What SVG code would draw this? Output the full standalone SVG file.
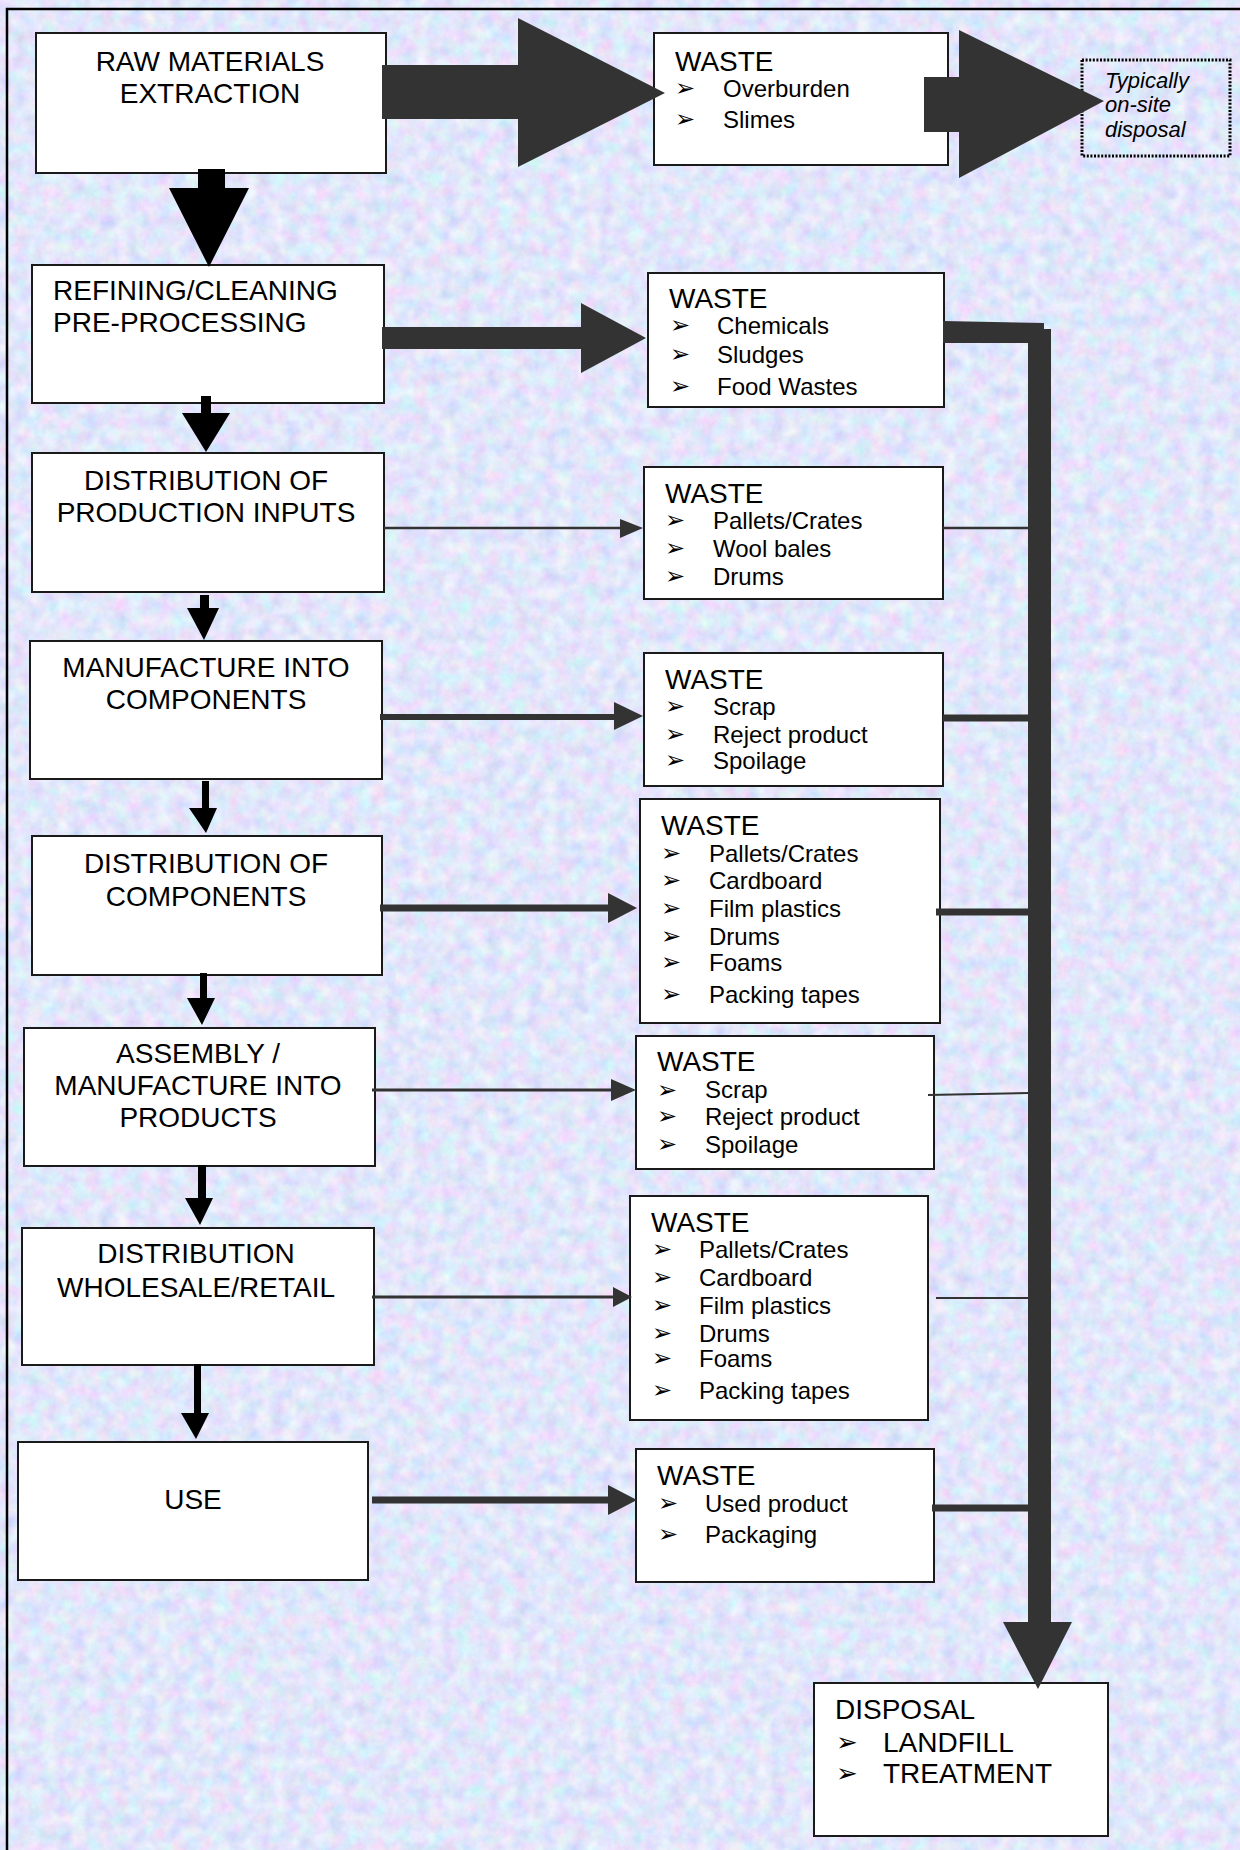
<svg xmlns="http://www.w3.org/2000/svg" width="1240" height="1850" viewBox="0 0 1240 1850">
<defs>
<filter id="tex" x="0" y="0" width="1240" height="1850" filterUnits="userSpaceOnUse">
<feTurbulence type="fractalNoise" baseFrequency="0.07" numOctaves="4" seed="7" result="n"/>
<feColorMatrix in="n" type="matrix" values="0.5 0 0 0 0.51  0 0.42 0 0 0.585  0 0 0.2 0 0.86  0 0 0 0 1"/>
</filter>
<style>
.box{fill:#fff;stroke:#1a1a1a;stroke-width:2}
.dot{fill:none;stroke:#000;stroke-width:3;stroke-dasharray:2 1.6}
.t{font-family:"Liberation Sans",Arial,sans-serif;font-size:28px;fill:#000}
.c{text-anchor:middle}
.i{font-family:"Liberation Sans",Arial,sans-serif;font-size:24px;fill:#000}
.b{font-family:"DejaVu Sans",sans-serif;font-size:24px;fill:#000}
.bb{font-family:"DejaVu Sans",sans-serif;font-size:26px;fill:#000}
.it{font-family:"Liberation Sans",Arial,sans-serif;font-size:22px;font-style:italic;fill:#000}
.blk{fill:#000}
.dk{fill:#333}
.ln{stroke:#333;fill:none}
</style>
</defs>
<rect x="0" y="0" width="1240" height="1850" fill="#fff"/>
<rect x="7" y="9" width="1233" height="1841" fill="#c4d0f4" filter="url(#tex)"/>
<path d="M7,1850 V9 H1240" fill="none" stroke="#000" stroke-width="2.5"/>

<g id="node-raw">
<rect class="box" x="36" y="33" width="350" height="140"/>
<text class="t c" x="210" y="71">RAW MATERIALS</text>
<text class="t c" x="210" y="103">EXTRACTION</text>
</g>
<g id="node-waste1">
<rect class="box" x="654" y="33" width="294" height="132"/>
<text class="t" x="675" y="71">WASTE</text>
<text class="b" x="675" y="96">➢</text><text class="i" x="723" y="97">Overburden</text>
<text class="b" x="675" y="127">➢</text><text class="i" x="723" y="128">Slimes</text>
</g>
<g id="node-onsite">
<rect class="dot" x="1082" y="60" width="148" height="96"/>
<text class="it" x="1105" y="88">Typically</text>
<text class="it" x="1105" y="112">on-site</text>
<text class="it" x="1105" y="137">disposal</text>
</g>
<g id="node-refining">
<rect class="box" x="32" y="265" width="352" height="138"/>
<text class="t" x="53" y="300">REFINING/CLEANING</text>
<text class="t" x="53" y="332">PRE-PROCESSING</text>
</g>
<g id="node-waste2">
<rect class="box" x="648" y="273" width="296" height="134"/>
<text class="t" x="669" y="308">WASTE</text>
<text class="b" x="670" y="333">➢</text><text class="i" x="717" y="334">Chemicals</text>
<text class="b" x="670" y="362">➢</text><text class="i" x="717" y="363">Sludges</text>
<text class="b" x="670" y="394">➢</text><text class="i" x="717" y="395">Food Wastes</text>
</g>
<g id="node-distinputs">
<rect class="box" x="32" y="453" width="352" height="139"/>
<text class="t c" x="206" y="490">DISTRIBUTION OF</text>
<text class="t c" x="206" y="522">PRODUCTION INPUTS</text>
</g>
<g id="node-waste3">
<rect class="box" x="644" y="467" width="299" height="132"/>
<text class="t" x="665" y="503">WASTE</text>
<text class="b" x="665" y="528">➢</text><text class="i" x="713" y="529">Pallets/Crates</text>
<text class="b" x="665" y="556">➢</text><text class="i" x="713" y="557">Wool bales</text>
<text class="b" x="665" y="584">➢</text><text class="i" x="713" y="585">Drums</text>
</g>
<g id="node-manufcomp">
<rect class="box" x="30" y="641" width="352" height="138"/>
<text class="t c" x="206" y="677">MANUFACTURE INTO</text>
<text class="t c" x="206" y="709">COMPONENTS</text>
</g>
<g id="node-waste4">
<rect class="box" x="644" y="653" width="299" height="133"/>
<text class="t" x="665" y="689">WASTE</text>
<text class="b" x="665" y="714">➢</text><text class="i" x="713" y="715">Scrap</text>
<text class="b" x="665" y="742">➢</text><text class="i" x="713" y="743">Reject product</text>
<text class="b" x="665" y="768">➢</text><text class="i" x="713" y="769">Spoilage</text>
</g>
<g id="node-distcomp">
<rect class="box" x="32" y="836" width="350" height="139"/>
<text class="t c" x="206" y="873">DISTRIBUTION OF</text>
<text class="t c" x="206" y="906">COMPONENTS</text>
</g>
<g id="node-waste5">
<rect class="box" x="640" y="799" width="300" height="224"/>
<text class="t" x="661" y="835">WASTE</text>
<text class="b" x="661" y="861">➢</text><text class="i" x="709" y="862">Pallets/Crates</text>
<text class="b" x="661" y="888">➢</text><text class="i" x="709" y="889">Cardboard</text>
<text class="b" x="661" y="916">➢</text><text class="i" x="709" y="917">Film plastics</text>
<text class="b" x="661" y="944">➢</text><text class="i" x="709" y="945">Drums</text>
<text class="b" x="661" y="970">➢</text><text class="i" x="709" y="971">Foams</text>
<text class="b" x="661" y="1002">➢</text><text class="i" x="709" y="1003">Packing tapes</text>
</g>
<g id="node-assembly">
<rect class="box" x="24" y="1028" width="351" height="138"/>
<text class="t c" x="198" y="1063">ASSEMBLY /</text>
<text class="t c" x="198" y="1095">MANUFACTURE INTO</text>
<text class="t c" x="198" y="1127">PRODUCTS</text>
</g>
<g id="node-waste6">
<rect class="box" x="636" y="1036" width="298" height="133"/>
<text class="t" x="657" y="1071">WASTE</text>
<text class="b" x="657" y="1098">➢</text><text class="i" x="705" y="1098">Scrap</text>
<text class="b" x="657" y="1124">➢</text><text class="i" x="705" y="1125">Reject product</text>
<text class="b" x="657" y="1152">➢</text><text class="i" x="705" y="1153">Spoilage</text>
</g>
<g id="node-distretail">
<rect class="box" x="22" y="1228" width="352" height="137"/>
<text class="t c" x="196" y="1263">DISTRIBUTION</text>
<text class="t c" x="196" y="1297">WHOLESALE/RETAIL</text>
</g>
<g id="node-waste7">
<rect class="box" x="630" y="1196" width="298" height="224"/>
<text class="t" x="651" y="1232">WASTE</text>
<text class="b" x="652" y="1257">➢</text><text class="i" x="699" y="1258">Pallets/Crates</text>
<text class="b" x="652" y="1285">➢</text><text class="i" x="699" y="1286">Cardboard</text>
<text class="b" x="652" y="1313">➢</text><text class="i" x="699" y="1314">Film plastics</text>
<text class="b" x="652" y="1341">➢</text><text class="i" x="699" y="1342">Drums</text>
<text class="b" x="652" y="1366">➢</text><text class="i" x="699" y="1367">Foams</text>
<text class="b" x="652" y="1398">➢</text><text class="i" x="699" y="1399">Packing tapes</text>
</g>
<g id="node-use">
<rect class="box" x="18" y="1442" width="350" height="138"/>
<text class="t c" x="193" y="1509">USE</text>
</g>
<g id="node-waste8">
<rect class="box" x="636" y="1449" width="298" height="133"/>
<text class="t" x="657" y="1485">WASTE</text>
<text class="b" x="658" y="1511">➢</text><text class="i" x="705" y="1512">Used product</text>
<text class="b" x="658" y="1542">➢</text><text class="i" x="705" y="1543">Packaging</text>
</g>
<g id="node-disposal">
<rect class="box" x="814" y="1683" width="294" height="153"/>
<text class="t" x="835" y="1719">DISPOSAL</text>
<text class="bb" x="836" y="1751">➢</text><text class="t" x="883" y="1752">LANDFILL</text>
<text class="bb" x="836" y="1782">➢</text><text class="t" x="883" y="1783">TREATMENT</text>
</g>

<g id="connectors">
<polygon class="dk" points="382,65 518,65 518,18 665,93 518,167 518,119 382,119"/>
<polygon class="dk" points="924,77 959,77 959,30 1104,101 959,178 959,132 924,132"/>
<polygon class="blk" points="198,169 225,169 225,188 249,188 209,267 169,188 198,188"/>
<polygon class="dk" points="382,327 581,327 581,303 646,338 581,373 581,349 382,349"/>
<polygon class="blk" points="201,396 211,396 211,413 230,413 206,452 182,413 201,413"/>
<polygon class="blk" points="200,595 209,595 209,608 219,608 204,640 187,608 200,608"/>
<polygon class="blk" points="202,781 209,781 209,808 217,808 206,833 189,808 202,808"/>
<polygon class="blk" points="200,973 207,973 207,998 215,998 202,1025 187,998 200,998"/>
<polygon class="blk" points="198,1165 206,1165 206,1198 213,1198 200,1225 185,1198 198,1198"/>
<polygon class="blk" points="194,1364 201,1364 201,1413 209,1413 196,1439 181,1413 194,1413"/>
<line class="ln" x1="384" y1="528" x2="622" y2="528" stroke-width="2.5"/>
<polygon class="dk" points="620,519 643,528 620,538"/>
<line class="ln" x1="380" y1="717" x2="616" y2="717" stroke-width="6"/>
<polygon class="dk" points="614,702 643,716 614,730"/>
<line class="ln" x1="380" y1="908" x2="610" y2="908" stroke-width="7"/>
<polygon class="dk" points="608,893 637,908 608,923"/>
<line class="ln" x1="372" y1="1090" x2="613" y2="1090" stroke-width="3"/>
<polygon class="dk" points="611,1079 636,1090 611,1101"/>
<line class="ln" x1="372" y1="1297" x2="615" y2="1297" stroke-width="3"/>
<polygon class="dk" points="613,1287 632,1297 613,1307"/>
<line class="ln" x1="372" y1="1500" x2="610" y2="1500" stroke-width="7"/>
<polygon class="dk" points="608,1485 637,1500 608,1515"/>
<polygon class="dk" points="943,321 1044,323 1044,329 1051,329 1051,1622 1072,1622 1038,1689 1003,1622 1028,1622 1028,343 943,343"/>
<line class="ln" x1="943" y1="528" x2="1029" y2="528" stroke-width="2.5"/>
<line class="ln" x1="943" y1="718" x2="1029" y2="718" stroke-width="7"/>
<line class="ln" x1="936" y1="912" x2="1029" y2="912" stroke-width="7"/>
<line class="ln" x1="928" y1="1095" x2="1029" y2="1093" stroke-width="2"/>
<line class="ln" x1="936" y1="1298" x2="1029" y2="1298" stroke-width="2"/>
<line class="ln" x1="932" y1="1508" x2="1029" y2="1508" stroke-width="7"/>
</g>
</svg>
